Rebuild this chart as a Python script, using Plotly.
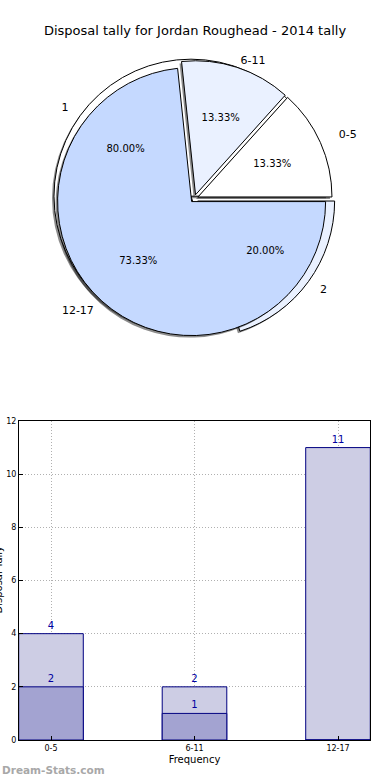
import plotly.graph_objects as go

# ---- data ----
title_text = "Disposal tally for Jordan Roughead - 2014 tally"
freq_labels = ["0-5", "6-11", "12-17"]
freq_values = [2, 2, 11]
freq_colors = ["#ffffff", "#eaf1ff", "#c5d9ff"]
count_labels = ["1", "2"]
count_values = [12, 3]
count_colors = ["#ffffff", "#eaf1ff"]
bar_categories = ["0-5", "6-11", "12-17"]
bar_total = [4, 2, 11]
bar_sub = [2, 1, 0]
y_ticks = [0, 2, 4, 6, 8, 10, 12]

W, H = 390, 780
FONT = "DejaVu Sans"


def dom_x(cx, half):
    return [(cx - half) / W, (cx + half) / W]


def dom_y(cy, half):
    return [(H - cy - half) / H, (H - cy + half) / H]


def start_rotation(values):
    # first slice starts at 3 o'clock and runs counterclockwise (matplotlib default)
    return 90 - 360 * values[0] / sum(values)


cx, cy = 194.3, 198.6
pull = 0.03
r_front, r_back = 134, 137

rot_f = start_rotation(freq_values)
rot_b = start_rotation(count_values)

fig = go.Figure()

common = dict(sort=False, direction="counterclockwise", hoverinfo="skip", showlegend=False)
pct_font = dict(family=FONT, size=10, color="black")
lab_font = dict(family=FONT, size=11, color="black")


def dom(r, dx=0, dy=0):
    h = r * (1 + pull)
    return dict(x=dom_x(cx + dx, h), y=dom_y(cy + dy, h))


def clear(n):
    return dict(colors=["rgba(0,0,0,0)"] * n, line=dict(width=0))


# back pie shadow
fig.add_trace(go.Pie(labels=count_labels, values=count_values, rotation=rot_b,
                     marker=dict(colors=["rgba(0,0,0,0.45)"] * 2, line=dict(width=0)),
                     pull=[pull] * 2, textinfo="none", domain=dom(r_back, -2, 2), **common))
# back pie
fig.add_trace(go.Pie(labels=count_labels, values=count_values, rotation=rot_b,
                     marker=dict(colors=count_colors, line=dict(color="black", width=1)),
                     pull=[pull] * 2, textinfo="none", domain=dom(r_back), **common))
# front pie shadow
fig.add_trace(go.Pie(labels=freq_labels, values=freq_values, rotation=rot_f,
                     marker=dict(colors=["rgba(0,0,0,0.45)"] * 3, line=dict(width=0)),
                     pull=[pull] * 3, textinfo="none", domain=dom(r_front, -2, 2), **common))
# front pie
fig.add_trace(go.Pie(labels=freq_labels, values=freq_values, rotation=rot_f,
                     marker=dict(colors=freq_colors, line=dict(color="black", width=1)),
                     pull=[pull] * 3, textinfo="none", domain=dom(r_front), **common))


def text_pie(labels, values, rot, r, show, template, position, font):
    n = len(values)
    tmpl = [template if s else "" for s in show]
    kw = dict(textfont=font) if position == "inside" else dict(outsidetextfont=font)
    fig.add_trace(go.Pie(labels=labels, values=values, rotation=rot, marker=clear(n),
                         pull=[pull] * n, texttemplate=tmpl, textposition=position,
                         insidetextorientation="horizontal", domain=dom(r), **kw, **common))


pct = "%{percent:.2%}"
lab = "%{label}"
# percentages (transparent pies, sized so the text sits where the reference has it)
text_pie(freq_labels, freq_values, rot_f, r_front * 0.86, [1, 1, 0], pct, "inside", pct_font)
text_pie(freq_labels, freq_values, rot_f, r_front * 1.18, [0, 0, 1], pct, "inside", pct_font)
text_pie(count_labels, count_values, rot_b, r_back * 1.17, [1, 0], pct, "inside", pct_font)
text_pie(count_labels, count_values, rot_b, r_back * 0.97, [0, 1], pct, "inside", pct_font)
# outside labels
text_pie(count_labels, count_values, rot_b, r_back + 10, [1, 1], lab, "outside", lab_font)
text_pie(freq_labels, freq_values, rot_f, r_front + 16, [1, 0, 0], lab, "outside", lab_font)
text_pie(freq_labels, freq_values, rot_f, r_front + 1, [0, 1, 0], lab, "outside", lab_font)
text_pie(freq_labels, freq_values, rot_f, r_front + 7, [0, 0, 1], lab, "outside", lab_font)

# bars
fig.add_trace(go.Bar(x=bar_categories, y=bar_total, width=0.45,
                     marker=dict(color="#cdcde4", line=dict(color="#000080", width=1)),
                     text=[str(v) if v else "" for v in bar_total], textposition="outside",
                     textfont=dict(family=FONT, size=10, color="#0000a0"),
                     cliponaxis=False, showlegend=False, hoverinfo="skip"))
fig.add_trace(go.Bar(x=bar_categories, y=bar_sub, width=0.45,
                     marker=dict(color="#a3a3d1", line=dict(color="#000080", width=1)),
                     text=[str(v) if v else "" for v in bar_sub], textposition="outside",
                     textfont=dict(family=FONT, size=10, color="#0000a0"),
                     cliponaxis=False, showlegend=False, hoverinfo="skip"))

grid = dict(showgrid=True, gridcolor="#b0b0b0", griddash="1px,2px", gridwidth=1)

fig.update_layout(
    width=W, height=H, margin=dict(l=0, r=0, t=0, b=0, autoexpand=False),
    paper_bgcolor="white", plot_bgcolor="white",
    barmode="overlay",
    font=dict(family=FONT, color="black"),
    title=dict(text=title_text, x=0.5, xanchor="center", y=1 - 30 / H, yanchor="middle",
               font=dict(family=FONT, size=13, color="black"), automargin=False),
    xaxis=dict(domain=[19 / W, 370 / W], type="category", range=[-0.223, 2.223],
               automargin=False,
               showline=True, linecolor="black", linewidth=1, mirror=True, **grid,
               ticks="inside", ticklen=4, tickcolor="black",
               tickfont=dict(family=FONT, size=8, color="black"),
               title=dict(text="Frequency", font=dict(family=FONT, size=10, color="black"),
                          standoff=4)),
    yaxis=dict(domain=[1 - 740 / H, 1 - 421 / H], range=[0, 12], tickvals=y_ticks,
               automargin=False,
               showline=True, linecolor="black", linewidth=1, mirror=True, **grid,
               zeroline=False, ticks="inside", ticklen=4, tickcolor="black",
               tickfont=dict(family=FONT, size=8, color="black")),
    annotations=[
        dict(text="Disposal Tally", textangle=-90, xref="paper", yref="paper",
             x=5 / W, y=1 - 580 / H, xanchor="right", yanchor="middle", showarrow=False,
             font=dict(family=FONT, size=10, color="black")),
        dict(text="<b>Dream-Stats.com</b>", xref="paper", yref="paper",
             x=0, y=1 - 770 / H, xanchor="left", yanchor="middle", showarrow=False,
             font=dict(family=FONT, size=10.5, color="#a8a8a8")),
    ],
)

fig.write_html("out.html", config={"displayModeBar": False},
               post_script="document.body.style.margin='0';document.body.style.overflow='hidden';")
